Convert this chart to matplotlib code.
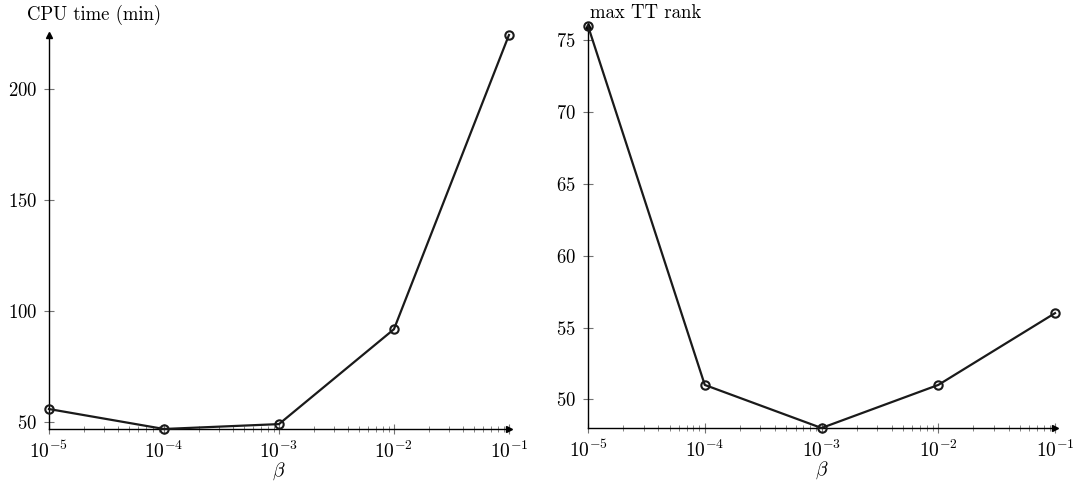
import matplotlib
matplotlib.use("Agg")
import matplotlib.pyplot as plt
import numpy as np

plt.rcParams['font.family'] = ['cmr10', 'DejaVu Serif']
plt.rcParams['mathtext.fontset'] = 'cm'
plt.rcParams['axes.formatter.use_mathtext'] = True
plt.rcParams['font.size'] = 13.5

beta = [1e-5, 1e-4, 1e-3, 1e-2, 1e-1]
cpu_time = [55.8, 46.8, 49.0, 91.8, 224.5]
max_rank = [76, 51, 48, 51, 56]

fig = plt.figure(figsize=(10.76, 4.91), dpi=100)
ax1 = fig.add_axes([0.0455, 0.1263, 0.4275, 0.8024])
ax2 = fig.add_axes([0.5465, 0.1283, 0.434, 0.8187])

def style(ax, ylim, yticks):
    ax.set_xscale('log')
    ax.set_xlim(1e-5, 1e-1)
    ax.set_ylim(*ylim)
    ax.set_yticks(yticks)
    ax.set_xticks(beta)
    ax.spines['top'].set_visible(False)
    ax.spines['right'].set_visible(False)
    ax.spines['left'].set_linewidth(1.0)
    ax.spines['bottom'].set_linewidth(1.0)
    ax.tick_params(axis='y', which='major', direction='inout', length=7,
                   color='0.45', width=0.8, labelsize=13.5, pad=5)
    ax.tick_params(axis='x', which='major', direction='inout', length=7,
                   color='0.45', width=0.8, labelsize=14, pad=5)
    ax.tick_params(axis='x', which='minor', direction='inout', length=4,
                   color='0.45', width=0.6)
    ax.tick_params(axis='y', which='minor', left=False)
    # axis arrows
    ax.plot(1, 0, '>', color='k', ms=5, transform=ax.transAxes, clip_on=False)
    ax.plot(0, 1, '^', color='k', ms=5, transform=ax.transAxes, clip_on=False)
    ax.set_xlabel(r'$\beta$', fontsize=14, labelpad=-1)

ax1.plot(beta, cpu_time, color='#1a1a1a', lw=1.6, marker='o', mfc='none',
         mec='#1a1a1a', mew=1.5, ms=6, clip_on=False, zorder=5)
style(ax1, (46.8, 224.5), [50, 100, 150, 200])

ax2.plot(beta, max_rank, color='#1a1a1a', lw=1.6, marker='o', mfc='none',
         mec='#1a1a1a', mew=1.5, ms=6, clip_on=False, zorder=5)
style(ax2, (48, 76), [50, 55, 60, 65, 70, 75])

fig.text(27/1076, 1 - 15/491, 'CPU time (min)', fontsize=13.5, va='center', ha='left')
fig.text(590/1076, 1 - 13/491, 'max TT rank', fontsize=13.5, va='center', ha='left')

fig.savefig('out.png', dpi=100)
